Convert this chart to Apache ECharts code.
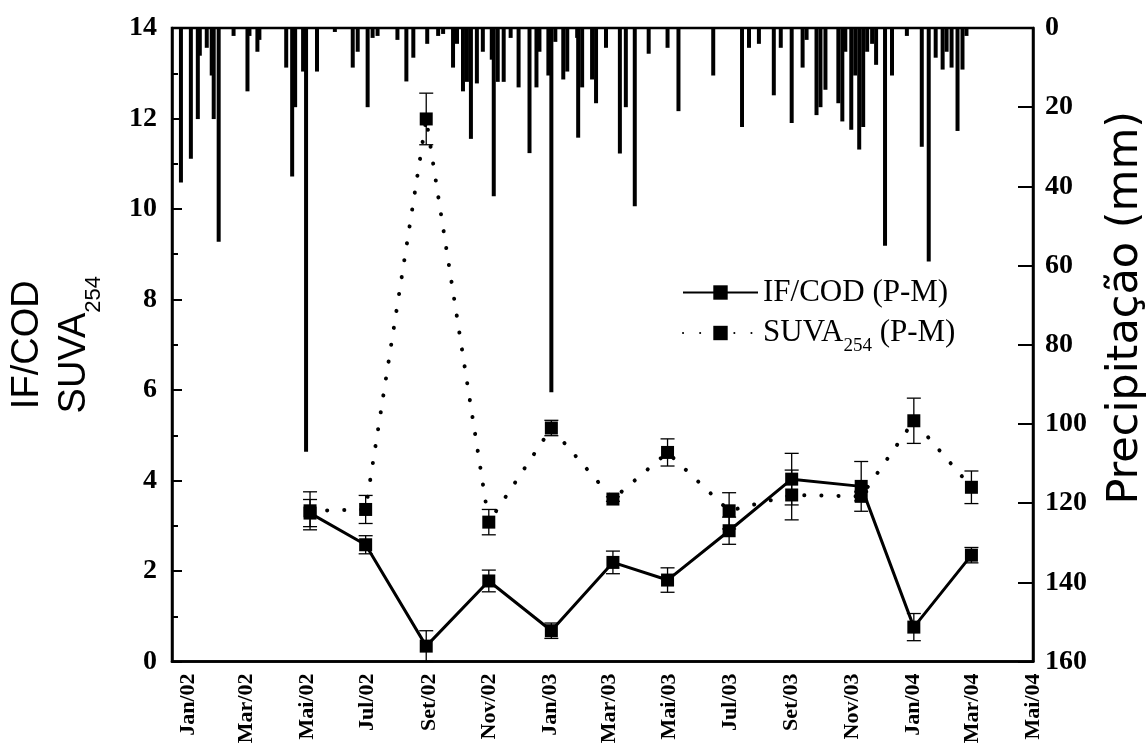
<!DOCTYPE html>
<html><head><meta charset="utf-8">
<script src="https://cdn.jsdelivr.net/npm/echarts@6/dist/echarts.min.js"></script>
<style>html,body{margin:0;padding:0;background:#fff}#chart{width:1147px;height:747px}</style>
</head><body><div id="chart"></div>
<script>
// ---- data ----
const xTickDates = ['2002-01-01','2002-03-01','2002-05-01','2002-07-01','2002-09-01','2002-11-01',
  '2003-01-01','2003-03-01','2003-05-01','2003-07-01','2003-09-01','2003-11-01',
  '2004-01-01','2004-03-01','2004-05-01'];
const xTickLabels = ['Jan/02','Mar/02','Mai/02','Jul/02','Set/02','Nov/02','Jan/03','Mar/03',
  'Mai/03','Jul/03','Set/03','Nov/03','Jan/04','Mar/04','Mai/04'];

const sampleDates = ['2002-05-04','2002-06-29','2002-08-29','2002-10-31','2003-01-02','2003-03-05',
  '2003-04-29','2003-06-30','2003-09-01','2003-11-10','2004-01-02','2004-02-29'];
const ifcod    = [3.28, 2.58, 0.34, 1.78, 0.68, 2.19, 1.80, 2.89, 4.03, 3.87, 0.76, 2.35];
const ifcodErr = [0.30, 0.20, 0.34, 0.24, 0.17, 0.25, 0.27, 0.30, 0.57, 0.55, 0.30, 0.17];
const suva     = [3.33, 3.36, 11.99, 3.08, 5.16, 3.59, 4.62, 3.33, 3.68, 3.65, 5.32, 3.85];
const suvaErr  = [0.42, 0.31, 0.57, 0.28, 0.17, 0.05, 0.30, 0.40, 0.55, 0.10, 0.50, 0.36];

const rainDates = ['2001-12-25','2002-01-04','2002-01-11','2002-01-13','2002-01-20','2002-01-25','2002-01-27',
  '2002-02-01','2002-02-16','2002-03-02','2002-03-04','2002-03-12','2002-03-14','2002-04-10','2002-04-16',
  '2002-04-19','2002-04-27','2002-04-30','2002-05-11','2002-05-29','2002-06-16','2002-06-21','2002-07-01',
  '2002-07-06','2002-07-11','2002-07-31','2002-08-09','2002-08-16','2002-08-30','2002-09-10','2002-09-15',
  '2002-09-25','2002-09-29','2002-10-05','2002-10-09','2002-10-13','2002-10-19','2002-10-25','2002-11-03',
  '2002-11-05','2002-11-09','2002-11-15','2002-11-22','2002-11-30','2002-12-11','2002-12-18','2002-12-21',
  '2002-12-30','2003-01-02','2003-01-06','2003-01-14','2003-01-18','2003-01-28','2003-01-29','2003-02-02',
  '2003-02-12','2003-02-16','2003-02-26','2003-03-12','2003-03-18','2003-03-27','2003-04-10','2003-04-29',
  '2003-05-10','2003-06-14','2003-07-13','2003-07-20','2003-07-30','2003-08-14','2003-08-21','2003-09-01',
  '2003-09-12','2003-09-16','2003-09-26','2003-09-30','2003-10-05','2003-10-18','2003-10-22','2003-10-25',
  '2003-10-31','2003-11-04','2003-11-08','2003-11-12','2003-11-16','2003-11-21','2003-11-25','2003-12-04',
  '2003-12-11','2003-12-26','2004-01-10','2004-01-17','2004-01-24','2004-01-31','2004-02-04','2004-02-09',
  '2004-02-15','2004-02-20','2004-02-24'];
const rainMm = [39,33,23,7,5,12,23,
  54,2,16,2,6,3,10,37.5,
  20,11,107,11,1,10,6,20,
  2.5,2,3,13.5,7.5,4,2,1.5,
  10,4,16,13.6,28,14,6,8,
  42.5,13.6,13.6,2.5,15,31.6,15,6,
  12,92,3.5,13,11,2.5,27.7,15,
  13,19,5,31.7,20,45,6.5,5,
  21,12,25,5,4,17,5,24,
  10,3,22,20,15.6,19,23.6,6,
  25.7,12,30.7,25,6,4,9.3,55,
  12,2,30,59,7.5,10.5,6,10,
  26,10.5,2];

// ---- chart ----
const T = s => echarts.number.parseDate(s).getTime();
const tickTimes = xTickDates.map(T);

function errRender(params, api) {
  const x = api.value(0);
  const p1 = api.coord([x, api.value(1)]);
  const p2 = api.coord([x, api.value(2)]);
  const hw = 7;
  const style = { stroke: '#000', lineWidth: 1.3 };
  return { type: 'group', children: [
    { type: 'line', shape: { x1: p1[0], y1: p1[1], x2: p2[0], y2: p2[1] }, style },
    { type: 'line', shape: { x1: p1[0] - hw, y1: p1[1], x2: p1[0] + hw, y2: p1[1] }, style },
    { type: 'line', shape: { x1: p2[0] - hw, y1: p2[1], x2: p2[0] + hw, y2: p2[1] }, style }
  ]};
}

const serifBold = { fontFamily: 'Liberation Serif', fontWeight: 'bold', color: '#000' };

const option = {
  animation: false,
  backgroundColor: '#fff',
  grid: { left: 172, right: 114, top: 28, bottom: 85.5, show: true, borderColor: '#000', borderWidth: 2.5,
          containLabel: false, outerBoundsMode: 'none' },
  legend: {
    orient: 'vertical', left: 682, top: 277, itemWidth: 75, itemHeight: 18, itemGap: 9.5, padding: 0,
    data: ['IF/COD (P-M)', 'SUVA254 (P-M)'],
    formatter: n => n.indexOf('SUVA') === 0 ? '{m|SUVA}{s|254}{m| (P-M)}' : '{a|' + n + '}',
    textStyle: {
      fontFamily: 'Liberation Serif', fontSize: 31, color: '#000',
      rich: {
        a: { fontFamily: 'Liberation Serif', fontSize: 31, lineHeight: 32, color: '#000' },
        m: { fontFamily: 'Liberation Serif', fontSize: 31, lineHeight: 45, color: '#000', verticalAlign: 'middle' },
        s: { fontFamily: 'Liberation Serif', fontSize: 19, lineHeight: 19, color: '#000', verticalAlign: 'bottom' }
      }
    }
  },
  xAxis: {
    type: 'value',
    min: T('2001-12-16'), max: T('2004-05-01'),
    axisLine: { show: true, onZero: false, lineStyle: { color: '#000', width: 2.5 } },
    axisTick: { show: false },
    splitLine: { show: false },
    axisLabel: Object.assign({
      rotate: 90, fontSize: 22, margin: 12, padding: [8, 0, 0, 0],
      customValues: tickTimes, hideOverlap: false,
      formatter: v => { const i = tickTimes.indexOf(v); return i >= 0 ? xTickLabels[i] : ''; }
    }, serifBold)
  },
  yAxis: [
    {
      type: 'value', min: 0, max: 14, interval: 2, position: 'left',
      name: '{a|IF/COD}\n{m|SUVA}{s|254}', nameLocation: 'middle', nameRotate: 90, nameGap: 67,
      nameTextStyle: {
        fontFamily: 'Liberation Sans', fontSize: 38, color: '#000',
        rich: {
          a: { fontFamily: 'Liberation Sans', fontSize: 38, lineHeight: 34, color: '#000' },
          m: { fontFamily: 'Liberation Sans', fontSize: 38, lineHeight: 60, color: '#000' },
          s: { fontFamily: 'Liberation Sans', fontSize: 22, lineHeight: 22, color: '#000', verticalAlign: 'bottom' }
        }
      },
      axisLine: { show: true, lineStyle: { color: '#000', width: 2.5 } },
      axisTick: { show: true, inside: true, length: 10, lineStyle: { color: '#000', width: 2 } },
      minorTick: { show: true, splitNumber: 2, length: 6, lineStyle: { color: '#000', width: 2 } },
      splitLine: { show: false },
      axisLabel: Object.assign({ fontSize: 28, margin: 15 }, serifBold)
    },
    {
      type: 'value', min: 0, max: 160, interval: 20, position: 'right', inverse: true,
      name: 'Precipitação (mm)', nameLocation: 'middle', nameRotate: 90, nameGap: 71,
      nameTextStyle: { fontFamily: 'DejaVu Sans', fontSize: 43, lineHeight: 43, color: '#000',
                       padding: [0, 0, 0, 74] },
      axisLine: { show: true, lineStyle: { color: '#000', width: 2.5 } },
      axisTick: { show: true, inside: true, length: 15, lineStyle: { color: '#000', width: 2 } },
      splitLine: { show: false },
      axisLabel: Object.assign({ fontSize: 28, margin: 12 }, serifBold)
    }
  ],
  series: [
    {
      type: 'bar', name: 'Precipitação', xAxisIndex: 0, yAxisIndex: 1, barWidth: 4, z: 1, silent: true,
      itemStyle: { color: '#000' },
      data: rainDates.map((d, i) => [T(d), rainMm[i]])
    },
    {
      type: 'custom', name: 'errIF', yAxisIndex: 0, z: 3, silent: true, renderItem: errRender,
      encode: { x: 0, y: [1, 2] },
      data: sampleDates.map((d, i) => [T(d), ifcod[i] - ifcodErr[i], ifcod[i] + ifcodErr[i]])
    },
    {
      type: 'custom', name: 'errSUVA', yAxisIndex: 0, z: 3, silent: true, renderItem: errRender,
      encode: { x: 0, y: [1, 2] },
      data: sampleDates.map((d, i) => [T(d), suva[i] - suvaErr[i], suva[i] + suvaErr[i]])
    },
    {
      type: 'line', name: 'IF/COD (P-M)', yAxisIndex: 0, z: 4,
      symbol: 'rect', symbolSize: 13,
      lineStyle: { color: '#000', width: 3 }, itemStyle: { color: '#000' },
      data: sampleDates.map((d, i) => [T(d), ifcod[i]])
    },
    {
      type: 'line', name: 'SUVA254 (P-M)', yAxisIndex: 0, z: 4,
      symbol: 'rect', symbolSize: 13,
      lineStyle: { color: '#000', width: 4, type: [0.1, 17], cap: 'round' }, itemStyle: { color: '#000' },
      data: sampleDates.map((d, i) => [T(d), suva[i]])
    }
  ]
};

const chart = echarts.init(document.getElementById('chart'), null, { renderer: 'canvas' });
chart.setOption(option);
</script>
</body></html>
